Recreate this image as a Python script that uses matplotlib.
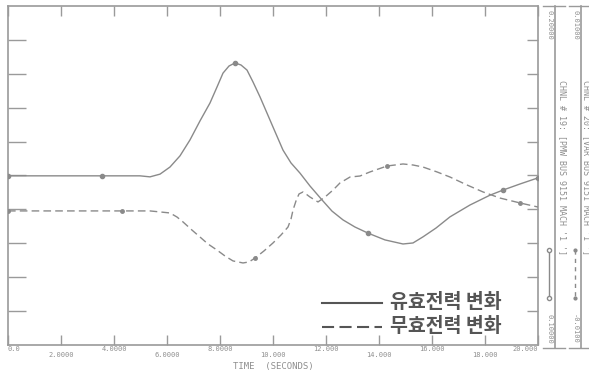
import matplotlib
matplotlib.use("Agg")
import matplotlib.pyplot as plt
from matplotlib.lines import Line2D
import numpy as np

# ---- data ----
t_p = [0.0, 3.547, 4.981, 5.358, 5.736, 6.113, 6.491, 6.868, 7.245, 7.623, 7.887, 8.113,
       8.340, 8.566, 8.792, 9.019, 9.245, 9.509, 9.774, 10.0, 10.377, 10.679, 11.019,
       11.396, 11.849, 12.226, 12.642, 13.094, 13.585, 14.226, 14.906, 15.283, 15.660,
       16.151, 16.679, 17.434, 18.189, 18.679, 19.321, 20.0]
p_val = [0.1499, 0.1499, 0.1499, 0.1496, 0.1504, 0.1525, 0.1558, 0.1605, 0.1661, 0.1714,
         0.1761, 0.1802, 0.1823, 0.1832, 0.1826, 0.1811, 0.1776, 0.1732, 0.1684, 0.1643,
         0.1575, 0.1537, 0.1507, 0.1469, 0.1428, 0.1395, 0.1369, 0.1348, 0.1330, 0.1310,
         0.1298, 0.1301, 0.1319, 0.1345, 0.1378, 0.1413, 0.1442, 0.1457, 0.1475, 0.1493]
p_marks = [0, 1, 13, 28, 37, 39]

t_q = [0.0, 4.302, 5.358, 5.736, 6.113, 6.377, 6.604, 6.943, 7.245, 7.547, 7.887, 8.189,
       8.491, 8.868, 9.094, 9.321, 9.660, 10.0, 10.302, 10.566, 10.679, 10.755, 10.868,
       10.981, 11.132, 11.245, 11.396, 11.698, 11.962, 12.264, 12.528, 12.906, 13.283,
       13.660, 14.302, 14.906, 15.283, 15.660, 16.189, 16.679, 17.321, 17.925, 18.566,
       19.321, 20.0]
q_val = [-0.00209, -0.00209, -0.00209, -0.00215, -0.00221, -0.00245, -0.00274, -0.00322,
         -0.00363, -0.00404, -0.00440, -0.00475, -0.00504, -0.00516, -0.00510, -0.00487,
         -0.00445, -0.00398, -0.00351, -0.00304, -0.00257, -0.00204, -0.00150, -0.00109,
         -0.00097, -0.00109, -0.00127, -0.00156, -0.00127, -0.00086, -0.00044, -0.00009,
         -0.00003, 0.00021, 0.00056, 0.00068, 0.00062, 0.00050, 0.00021, -0.00009,
         -0.00056, -0.00097, -0.00133, -0.00162, -0.00186]
q_marks = [0, 1, 15, 34, 43]

x_ticks = [0, 2, 4, 6, 8, 10, 12, 14, 16, 18, 20]
x_labels = ["0.0", "2.0000", "4.0000", "6.0000", "8.0000", "10.000",
            "12.000", "14.000", "16.000", "18.000", "20.000"]
p_range = (0.1, 0.2)
q_range = (-0.01, 0.01)
p_axis_labels = ("0.20000", "0.10000")
q_axis_labels = ("0.01000", "-0.0100")
ch_p = "CHNL # 19: [PMW BUS 9151 MACH '1 ']"
ch_q = "CHNL # 20: [VAR BUS 9151 MACH '1 ']"
legend_p = "유효전력 변화"
legend_q = "무효전력 변화"
xlabel = "TIME  (SECONDS)"

W, H = 589, 373
fig = plt.figure(figsize=(W / 100, H / 100), dpi=100)
fig.patch.set_facecolor("white")

gray = "#8a8a8a"
axc = "#9a9a9a"
txtc = "#8f8f8f"
mono = "DejaVu Sans Mono"

L, R, T, B = 8, 538, 6, 345
ax = fig.add_axes([L / W, (H - B) / H, (R - L) / W, (B - T) / H])
ax.set_xlim(0, 20)
ax.set_ylim(*p_range)
for s in ax.spines.values():
    s.set_color(axc)
    s.set_linewidth(1.2)

ax.plot(t_p, p_val, color=gray, lw=1.0, marker="o", markevery=p_marks,
        ms=3, mfc=gray, mec=gray, zorder=3)

ax2 = ax.twinx()
ax2.set_ylim(*q_range)
ax2.axis("off")
ax2.plot(t_q, q_val, color=gray, lw=1.0, ls=(0, (5.5, 3)), marker="o",
         markevery=q_marks, ms=2.5, mfc=gray, mec=gray, zorder=3)

# x ticks: staggered labels
major = x_ticks[0::2]
minor = x_ticks[1::2]
ax.set_xticks(major)
ax.set_xticklabels(x_labels[0::2])
ax.set_xticks(minor, minor=True)
ax.set_xticklabels(x_labels[1::2], minor=True)
ax.tick_params(axis="x", which="major", direction="in", length=7, width=1,
               color=axc, top=True, pad=1.0, labelsize=5, labelcolor=txtc)
ax.tick_params(axis="x", which="minor", direction="in", length=7, width=1,
               color=axc, top=True, pad=4.8, labelsize=5, labelcolor=txtc)
for lab in ax.get_xticklabels():
    lab.set_family(mono)
for lab in ax.get_xticklabels(minor=True):
    lab.set_family(mono)
ax.get_xticklabels()[-1].set_ha("right")
ax.get_xticklabels()[0].set_ha("left")

ax.set_yticks(np.linspace(p_range[0], p_range[1], 11)[1:-1])
ax.tick_params(axis="y", direction="in", length=13, width=1, color=axc,
               right=True, labelleft=False)
for tl in ax.yaxis.get_major_ticks():
    tl.tick2line.set_markersize(8)

fig.text((L + R) / 2 / W, 1 - 366 / H, xlabel, ha="center", va="center",
         fontsize=6.5, color=txtc, family=mono)

# legend
fig.add_artist(Line2D([322 / W, 382 / W], [1 - 303 / H, 1 - 303 / H],
                      color="#555555", lw=1.5))
fig.add_artist(Line2D([322 / W, 382 / W], [1 - 327 / H, 1 - 327 / H],
                      color="#555555", lw=1.5, ls=(0, (5.8, 2.6))))
kfont = ["Noto Sans CJK KR", "DejaVu Sans"]
fig.text(390 / W, 1 - 302 / H, legend_p, ha="left", va="center", fontsize=14,
         color="#555555", family=kfont, fontweight="bold")
fig.text(390 / W, 1 - 326 / H, legend_q, ha="left", va="center", fontsize=14,
         color="#555555", family=kfont, fontweight="bold")

# right-hand channel axes
def chan_axis(xline, xlab, xch, labs, chtext, dashed):
    fig.add_artist(Line2D([xline / W] * 2, [1 - T / H, 1 - 348 / H], color=axc, lw=1.2))
    fig.add_artist(Line2D([(xline - 12) / W, (xline + 10) / W], [1 - T / H] * 2, color=axc, lw=1.0))
    fig.add_artist(Line2D([(xline - 12) / W, (xline + 10) / W], [1 - 348 / H] * 2, color=axc, lw=1.0))
    fig.text(xlab / W, 1 - 10 / H, labs[0], rotation=270, ha="center", va="top",
             fontsize=5, color=txtc, family=mono)
    fig.text(xlab / W, 1 - 344 / H, labs[1], rotation=270, ha="center", va="bottom",
             fontsize=5, color=txtc, family=mono)
    fig.text(xch / W, 1 - 80 / H, chtext, rotation=270, ha="center", va="top",
             fontsize=6, color=txtc, family=mono)
    fig.add_artist(Line2D([(xlab) / W] * 2, [1 - 250 / H, 1 - 298 / H], color=gray,
                          lw=1.0, ls=(0, (3, 3)) if dashed else "-",
                          marker="o", ms=3 if not dashed else 2,
                          mfc="white" if not dashed else gray, mec=gray))

chan_axis(555, 549, 562, p_axis_labels, ch_p, False)
chan_axis(581, 575, 586, q_axis_labels, ch_q, True)

fig.savefig("out.png", dpi=100, facecolor="white")
